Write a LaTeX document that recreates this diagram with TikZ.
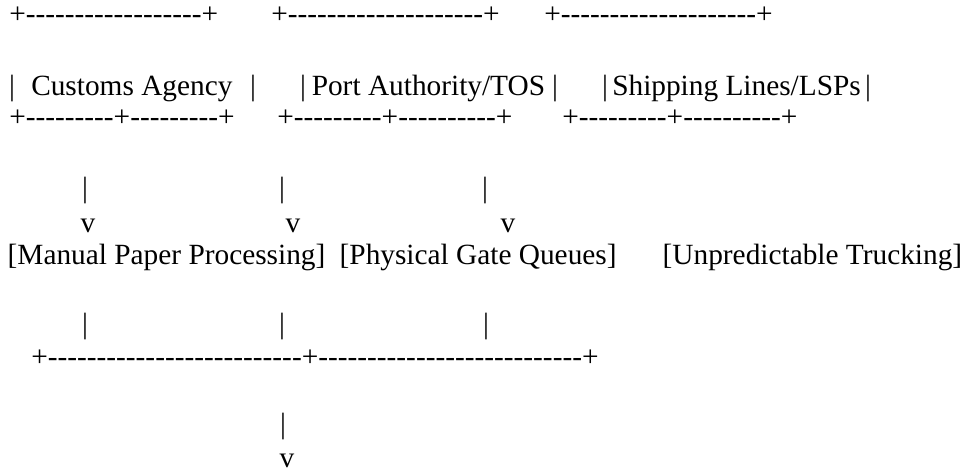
\documentclass[tikz,border=0pt]{standalone}
\usepackage{fontspec}
\newfontfamily\artfont{Liberation Serif}
\usepackage{tikz}
\newcommand\dashrun[1]{\foreach \dashno in {1,...,#1}{-\kern0pt}}

\begin{document}
\begin{tikzpicture}[x=0.75pt,y=0.75pt,yscale=-1,xscale=1,
  art/.style={anchor=base west,inner sep=0pt,font=\artfont\fontsize{22}{26}\selectfont},
  glyph/.style={anchor=base,inner sep=0pt,font=\artfont\fontsize{22}{26}\selectfont}]
%set diagram left start at 0, and has height of 470
\path[use as bounding box] (0,0) rectangle (962,470);

% Text Node
\draw (9,24) node (custTop) [art] {+\dashrun{18}+};
% Text Node
\draw (271,24) node (portTop) [art] {+\dashrun{20}+};
% Text Node
\draw (544,24) node (shipTop) [art] {+\dashrun{20}+};

% Text Node
\draw (12,96) node (custL) [glyph] {|};
\draw (31,96) node (custName) [art] {Customs Agency};
\draw (253,96) node (custR) [glyph] {|};
% Text Node
\draw (303,96) node (portL) [glyph] {|};
\draw (311.5,96) node (portName) [art] {Port Authority/TOS};
\draw (555,96) node (portR) [glyph] {|};
% Text Node
\draw (605,96) node (shipL) [glyph] {|};
\draw (612,96) node (shipName) [art] {Shipping Lines/LSPs};
\draw (868,96) node (shipR) [glyph] {|};

% Text Node
\draw (9,127) node (custBot) [art] {+\dashrun{9}+\dashrun{9}+};
% Text Node
\draw (277,127) node (portBot) [art] {+\dashrun{9}+\dashrun{10}+};
% Text Node
\draw (562,127) node (shipBot) [art] {+\dashrun{9}+\dashrun{10}+};

% Text Node
\draw (85,198) node (custStem) [glyph] {|};
\draw (282,198) node (portStem) [glyph] {|};
\draw (485,198) node (shipStem) [glyph] {|};
% Text Node
\draw (88,233) node (custHead) [glyph] {v};
\draw (293,233) node (portHead) [glyph] {v};
\draw (508,233) node (shipHead) [glyph] {v};

% Text Node
\draw (7.4,264) node (paper) [art] {[Manual Paper Processing]};
% Text Node
\draw (339.4,264) node (gate) [art] {[Physical Gate Queues]};
% Text Node
\draw (662.4,264) node (truck) [art] {[Unpredictable Trucking]};

% Text Node
\draw (85,333) node (paperStem) [glyph] {|};
\draw (282,333) node (gateStem) [glyph] {|};
\draw (486,333) node (truckStem) [glyph] {|};
% Text Node
\draw (31,366) node (joinBar) [art] {+\dashrun{26}+\dashrun{27}+};

% Text Node
\draw (283,433) node (outStem) [glyph] {|};
\draw (287,467) node (outHead) [glyph] {v};

\end{tikzpicture}
\end{document}
